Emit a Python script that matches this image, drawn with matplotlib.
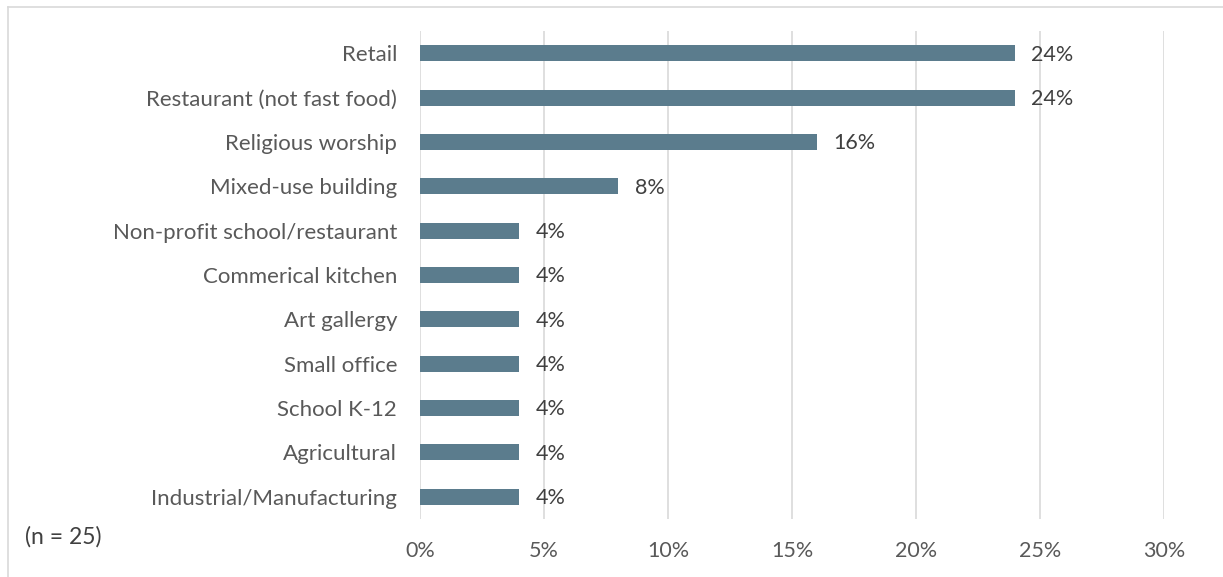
import matplotlib.pyplot as plt
from matplotlib.lines import Line2D

categories = [
    "Retail",
    "Restaurant (not fast food)",
    "Religious worship",
    "Mixed-use building",
    "Non-profit school/restaurant",
    "Commerical kitchen",
    "Art gallergy",
    "Small office",
    "School K-12",
    "Agricultural",
    "Industrial/Manufacturing",
]
values = [24, 24, 16, 8, 4, 4, 4, 4, 4, 4, 4]
xticks = [0, 5, 10, 15, 20, 25, 30]
note = "(n = 25)"

plt.rcParams["font.family"] = ["Lato", "DejaVu Sans"]

fig = plt.figure(figsize=(12.23, 5.77), dpi=100)
ax = fig.add_axes([420 / 1223, 1 - 519 / 577, 744 / 1223, 488 / 577])

ypos = list(range(len(categories)))
ax.barh(ypos, values, height=0.36, color="#5B7C8D", zorder=3)
for y, v in zip(ypos, values):
    ax.text(v + 0.65, y + 0.03, f"{v}%", va="center", ha="left", fontsize=15.5, color="#404040")

ax.set_xlim(0, 30)
ax.set_ylim(len(categories) - 0.5, -0.5)
ax.set_yticks(ypos)
ax.set_yticklabels(categories, fontsize=16, color="#595959")
ax.set_xticks(xticks)
ax.set_xticklabels([f"{t}%" for t in xticks], fontsize=15.5, color="#595959")
ax.tick_params(axis="both", length=0)
ax.tick_params(axis="y", pad=16.5)
ax.tick_params(axis="x", pad=16)
ax.grid(axis="x", color="#D9D9D9", linewidth=1.2, zorder=0)
for s in ax.spines.values():
    s.set_visible(False)

fig.text(25 / 1223, 1 - 537 / 577, note, fontsize=16.5, color="#404040", va="center", ha="left")

# light outer frame (top and left edges)
fig.add_artist(Line2D([8 / 1223, 1], [1 - 7 / 577, 1 - 7 / 577], color="#D9D9D9", linewidth=1.2))
fig.add_artist(Line2D([8 / 1223, 8 / 1223], [0, 1 - 7 / 577], color="#D9D9D9", linewidth=1.2))

plt.savefig("out.png", dpi=100)
